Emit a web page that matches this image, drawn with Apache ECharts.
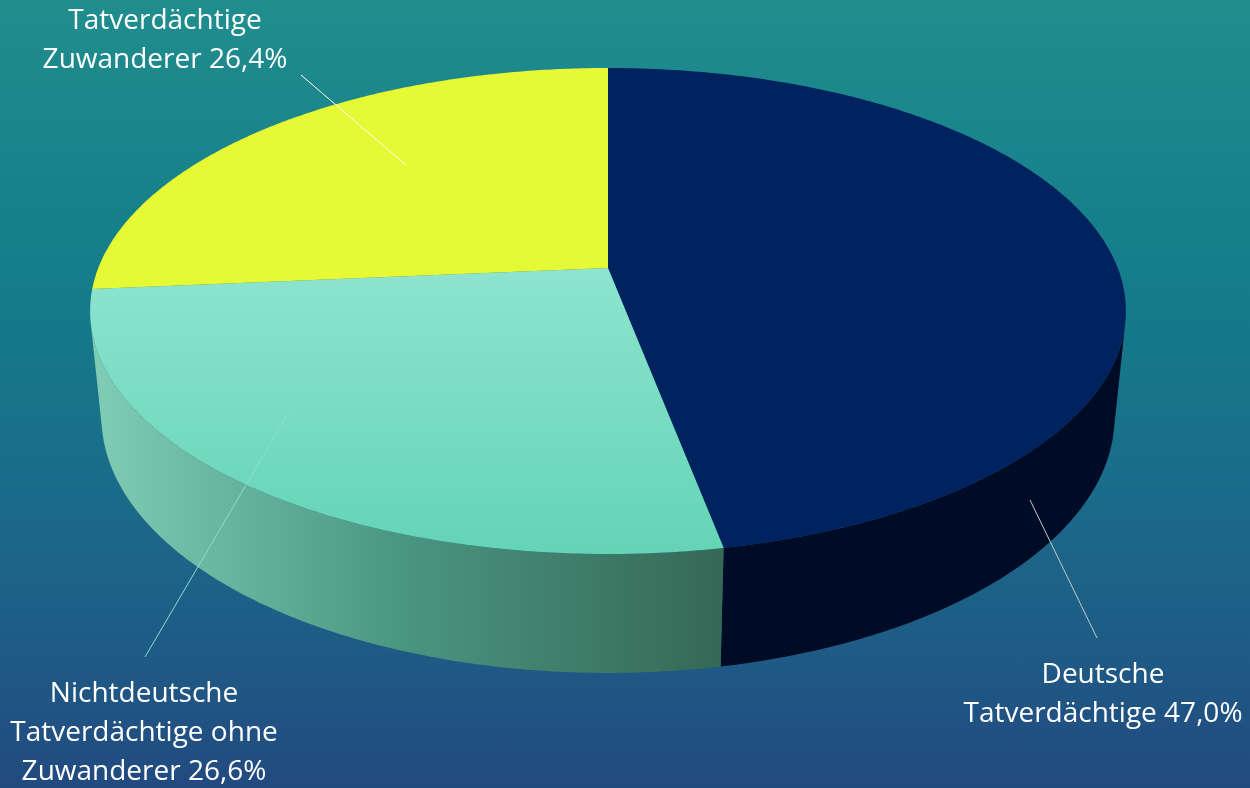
<!DOCTYPE html>
<html>
<head>
<meta charset="utf-8">
<script src="https://cdn.jsdelivr.net/npm/echarts@6/dist/echarts.min.js"></script>
<style>
html,body{margin:0;padding:0;}
#chart{width:1250px;height:788px;background:linear-gradient(180deg,#208d8d 0%,#147d8a 35%,#1a6d8a 60%,#1e5d86 80%,#224a80 100%);}
</style>
</head>
<body>
<div id="chart"></div>
<script>
// ---- data ----
const CATEGORIES = ['Deutsche\nTatverdächtige', 'Nichtdeutsche\nTatverdächtige ohne\nZuwanderer', 'Tatverdächtige\nZuwanderer'];
const VALUES = [47.0, 26.6, 26.4];

// ---- style / layout ----
const TOP_COLORS = [
  '#00225e',
  {type:'linear',x:0,y:0,x2:0,y2:1,colorStops:[{offset:0,color:'#8de4cf'},{offset:1,color:'#64d4b4'}]},
  '#e6f935'
];
const SIDE_COLORS = [
  '#000c26',
  {type:'linear',x:0,y:0,x2:1,y2:0,colorStops:[{offset:0,color:'#80ccb5'},{offset:0.5,color:'#4a9580'},{offset:1,color:'#356856'}]},
  '#9aa522'
];
const LABEL_LAYOUT = [
  {x:1103, y:695, line:[[1030,500],[1097,638]], lineColor:'#c2cccc'},
  {x:144,  y:733, line:[[290,410],[145,657]],  lineColor:'#86e2cf'},
  {x:165,  y:41,  line:[[301,75],[406,165]],   lineColor:'#ffffff'}
];

// perspective model
const CA = 0.887, SA = Math.sqrt(1 - CA*CA), DIST = 5.0125, FOC = 2555, DEPTH = 0.236;
const CX = 608, CY = 268, W = 1250, H = 788;
function proj(theta, h) {
  const X = Math.sin(theta), Z = Math.cos(theta);
  const yc = Z*SA + h*CA;
  const zc = Z*CA - h*SA + DIST;
  return [X/zc, yc/zc];
}
const TOTAL = VALUES.reduce((a,b)=>a+b,0);
function angles(i) {
  let s = 0;
  for (let k=0;k<i;k++) s += VALUES[k];
  return [s/TOTAL*2*Math.PI, (s+VALUES[i])/TOTAL*2*Math.PI];
}
// visible side range (surface normal facing the camera)
const CUT = Math.acos(-1/(DIST*CA));
const VIS0 = CUT, VIS1 = 2*Math.PI - CUT;

function arcPts(api, a0, a1, h) {
  const n = Math.max(2, Math.ceil((a1-a0)/(Math.PI/360)));
  const pts = [];
  for (let k=0;k<=n;k++) {
    const t = a0 + (a1-a0)*k/n;
    pts.push(api.coord(proj(t, h)));
  }
  return pts;
}

const chart = echarts.init(document.getElementById('chart'), null, {renderer:'canvas'});
const dataItems = VALUES.map((v,i)=>({name:CATEGORIES[i], value:[i, v]}));

const option = {
  animation: false,
  backgroundColor: 'transparent',
  grid: {left:0, right:0, top:0, bottom:0},
  xAxis: {type:'value', min:-CX/FOC, max:(W-CX)/FOC, show:false},
  yAxis: {type:'value', min:-(H-CY)/FOC, max:CY/FOC, show:false},
  series: [
    {
      type:'custom', clip:false, silent:true, z:1,
      data: dataItems,
      renderItem: function(params, api) {
        const i = params.dataIndex;
        const [a0, a1] = angles(i);
        const s0 = Math.max(a0, VIS0), s1 = Math.min(a1, VIS1);
        if (s1 <= s0) return {type:'group', children:[]};
        const top = arcPts(api, s0, s1, 0);
        const bot = arcPts(api, s0, s1, -DEPTH).reverse();
        return {type:'polygon', shape:{points: top.concat(bot)}, style:{fill: SIDE_COLORS[i]}};
      }
    },
    {
      type:'custom', clip:false, silent:true, z:2,
      data: dataItems,
      renderItem: function(params, api) {
        const i = params.dataIndex;
        const [a0, a1] = angles(i);
        const pts = [api.coord([0, 0])].concat(arcPts(api, a0, a1, 0));
        return {type:'polygon', shape:{points: pts}, style:{fill: TOP_COLORS[i]}};
      }
    },
    {
      type:'custom', clip:false, silent:true, z:3,
      data: dataItems,
      renderItem: function(params, api) {
        const i = params.dataIndex;
        const L = LABEL_LAYOUT[i];
        const txt = CATEGORIES[i] + ' ' + VALUES[i].toFixed(1).replace('.', ',') + '%';
        return {type:'group', children:[
          {type:'line', shape:{x1:L.line[0][0], y1:L.line[0][1], x2:L.line[1][0], y2:L.line[1][1]}, style:{stroke:L.lineColor, lineWidth:1}},
          {type:'text', x:L.x, y:L.y, style:{text: txt, fill:'#ffffff', font:'28px "Open Sans"', align:'center', verticalAlign:'middle', lineHeight:39}}
        ]};
      }
    }
  ]
};
chart.setOption(option);
</script>
</body>
</html>
